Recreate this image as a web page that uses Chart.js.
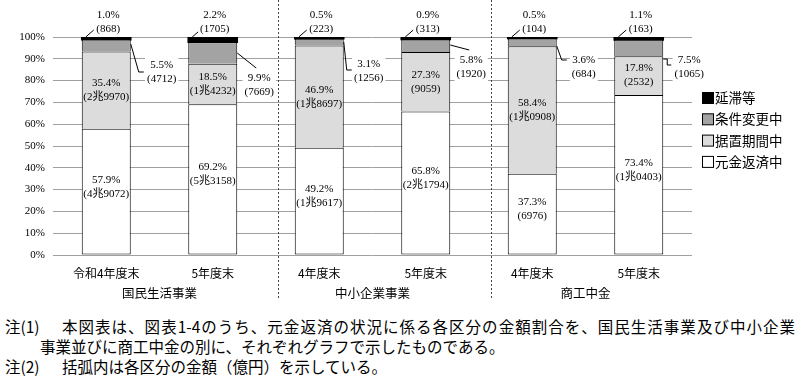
<!DOCTYPE html>
<html>
<head>
<meta charset="utf-8">
<script src="https://cdn.jsdelivr.net/npm/chart.js@4"></script>
<style>
  body { margin: 0; background: #fff; width: 800px; height: 381px; overflow: hidden; position: relative; }
  #wrap { position: absolute; left: 0; top: 0; }
  .note { position: absolute; font-family: "Noto Sans CJK JP", sans-serif; font-size: 15.5px; line-height: 20px; color: #000; white-space: nowrap; }
</style>
</head>
<body>
<div id="wrap"><canvas id="chart" width="800" height="310"></canvas></div>
<div class="note" style="left:5px; top:316px;">注(1)</div>
<div class="note" style="left:62px; top:316px; width:733px; text-align:justify; text-align-last:justify;">本図表は、図表1-4のうち、元金返済の状況に係る各区分の金額割合を、国民生活事業及び中小企業</div>
<div class="note" style="left:40px; top:336px;">事業並びに商工中金の別に、それぞれグラフで示したものである。</div>
<div class="note" style="left:5px; top:356px;">注(2)</div>
<div class="note" style="left:62px; top:356px;">括弧内は各区分の金額（億円）を示している。</div>
<script>
// データ
const categories = ["令和4年度末", "5年度末", "4年度末", "5年度末", "4年度末", "5年度末"];
const groups = ["国民生活事業", "中小企業事業", "商工中金"];
const seriesNames = ["元金返済中", "据置期間中", "条件変更中", "延滞等"];

const repaying = [57.9, 69.2, 49.2, 65.8, 37.3, 73.4];
const deferred = [35.4, 18.5, 46.9, 27.3, 58.4, 17.8];
const modified = [5.5, 9.9, 3.1, 5.8, 3.6, 7.5];
const overdue = [1.0, 2.2, 0.5, 0.9, 0.5, 1.1];

const repayingAmt = ["4兆9072", "5兆3158", "1兆9617", "2兆1794", "6976", "1兆0403"];
const deferredAmt = ["2兆9970", "1兆4232", "1兆8697", "9059", "1兆0908", "2532"];
const modifiedAmt = ["4712", "7669", "1256", "1920", "684", "1065"];
const overdueAmt = ["868", "1705", "223", "313", "104", "163"];

const yMax = 100;
const yStep = 10;

const colors = ["#ffffff", "#dcdcdc", "#a3a3a3", "#000000"];
const FONT = "'Liberation Serif', 'Noto Sans CJK JP', serif";
const JP = "'Noto Sans CJK JP', sans-serif";

// 条件変更中ラベルの位置（棒の右端・上端からのずれ）
const callout = [
  { dx: 31, dy: 28, path: [[0, 7], [8, 35], [13, 35]] },
  { dx: 22, dy: 41, path: [[0, 16], [19, 31]] },
  { dx: 25, dy: 27, path: [[0, 5], [3, 33], [8, 33]] },
  { dx: 21, dy: 23, path: [[0, 8], [19, 13]] },
  { dx: 27, dy: 23, path: [[0, 9], [5, 23], [10, 23]] },
  { dx: 26, dy: 23, path: [[0, 22], [4, 22], [4, 28], [8, 28]] }
];

function twoLines(ctx, x, y, a, b, bg) {
  ctx.font = "11px " + FONT;
  ctx.textAlign = "center";
  ctx.textBaseline = "middle";
  if (bg) {
    const w = Math.max(ctx.measureText(a).width, ctx.measureText(b).width) + 4;
    ctx.fillStyle = "#fff";
    ctx.fillRect(x - w / 2, y - 7, w, 28);
  }
  ctx.fillStyle = "#000";
  ctx.fillText(a, x, y);
  ctx.fillText(b, x, y + 14);
}

const labelPlugin = {
  id: "labels",
  afterDatasetsDraw(chart) {
    const ctx = chart.ctx;
    const ys = chart.scales.y;
    const top = ys.getPixelForValue(100);
    ctx.save();
    // 内側のラベル
    chart.getDatasetMeta(0).data.forEach(function (bar, i) {
      const cy = (ys.getPixelForValue(0) + ys.getPixelForValue(repaying[i])) / 2 - 5;
      twoLines(ctx, bar.x, cy - 7, repaying[i].toFixed(1) + "%", "(" + repayingAmt[i] + ")", false);
    });
    chart.getDatasetMeta(1).data.forEach(function (bar, i) {
      const a = repaying[i], b = a + deferred[i];
      const cy = (ys.getPixelForValue(a) + ys.getPixelForValue(b)) / 2;
      twoLines(ctx, bar.x, cy - 7, deferred[i].toFixed(1) + "%", "(" + deferredAmt[i] + ")", false);
    });
    // 条件変更中
    chart.getDatasetMeta(2).data.forEach(function (bar, i) {
      const r = bar.x + bar.width / 2;
      const c = callout[i];
      ctx.strokeStyle = "#000";
      ctx.lineWidth = 1;
      ctx.beginPath();
      c.path.forEach(function (p, k) {
        if (k == 0) ctx.moveTo(r + p[0], top + p[1]);
        else ctx.lineTo(r + p[0], top + p[1]);
      });
      ctx.stroke();
      twoLines(ctx, r + c.dx, top + c.dy, modified[i].toFixed(1) + "%", "(" + modifiedAmt[i] + ")", true);
    });
    // 延滞等
    chart.getDatasetMeta(3).data.forEach(function (bar, i) {
      const l = bar.x - bar.width / 2;
      ctx.strokeStyle = "#000";
      ctx.beginPath();
      ctx.moveTo(l + 4, top);
      ctx.lineTo(l + 12, top - 7);
      ctx.stroke();
      twoLines(ctx, bar.x + 2, top - 22, overdue[i].toFixed(1) + "%", "(" + overdueAmt[i] + ")", true);
    });
    ctx.restore();
  },
  afterDraw(chart) {
    const ctx = chart.ctx;
    const meta = chart.getDatasetMeta(0);
    ctx.save();
    // 区切りの点線
    ctx.strokeStyle = "#444";
    ctx.setLineDash([2, 2]);
    [1, 3].forEach(function (i) {
      const x = Math.round((meta.data[i].x + meta.data[i + 1].x) / 2 + 12) + 0.5;
      ctx.beginPath();
      ctx.moveTo(x, 0);
      ctx.lineTo(x, 300);
      ctx.stroke();
    });
    ctx.setLineDash([]);
    // グループ名
    ctx.fillStyle = "#000";
    ctx.font = "12.5px " + JP;
    ctx.textAlign = "center";
    ctx.textBaseline = "middle";
    groups.forEach(function (g, k) {
      const x = (meta.data[k * 2].x + meta.data[k * 2 + 1].x) / 2;
      ctx.fillText(g, x, 293);
    });
    // 凡例
    const lx = chart.chartArea.right + 10;
    ctx.textAlign = "left";
    ctx.font = "13.5px " + JP;
    for (let k = 0; k < 4; k++) {
      const d = 3 - k;
      const y = 98 + k * 21.3;
      ctx.fillStyle = colors[d];
      ctx.fillRect(lx + 0.5, y - 5.5, 11, 11);
      ctx.strokeStyle = "#000";
      ctx.strokeRect(lx + 0.5, y - 5.5, 11, 11);
      ctx.fillStyle = "#000";
      ctx.fillText(seriesNames[d], lx + 13, y);
    }
    ctx.restore();
  }
};

const seriesData = [repaying, deferred, modified, overdue];

new Chart("chart", {
  type: "bar",
  data: {
    labels: categories,
    datasets: seriesData.map(function (v, d) {
      return {
        label: seriesNames[d],
        data: v,
        backgroundColor: colors[d],
        borderColor: "#000",
        borderWidth: d == 3 ? 0 : 1,
        borderSkipped: d == 0 ? false : "start",
        inflateAmount: d == 3 ? 0.8 : 0,
        barPercentage: 0.46,
        categoryPercentage: 1
      };
    })
  },
  options: {
    responsive: false,
    animation: false,
    layout: { padding: { top: 37, right: 108, left: 0, bottom: 0 } },
    plugins: {
      legend: { display: false },
      tooltip: { enabled: false }
    },
    scales: {
      x: {
        stacked: true,
        grid: { display: false },
        border: { display: false },
        ticks: { color: "#000", font: { family: JP, size: 12 }, padding: 3, maxRotation: 0, autoSkip: false },
        afterFit: function (scale) { scale.height = 55; }
      },
      y: {
        stacked: true,
        min: 0,
        max: yMax,
        grid: { color: "#a0a0a0", drawTicks: false },
        border: { display: false },
        ticks: {
          stepSize: yStep,
          color: "#000",
          padding: 8,
          font: { family: FONT, size: 11 },
          callback: function (v) { return v + "%"; }
        },
        afterFit: function (scale) { scale.width = 53; }
      }
    }
  },
  plugins: [labelPlugin]
});
</script>
</body>
</html>
